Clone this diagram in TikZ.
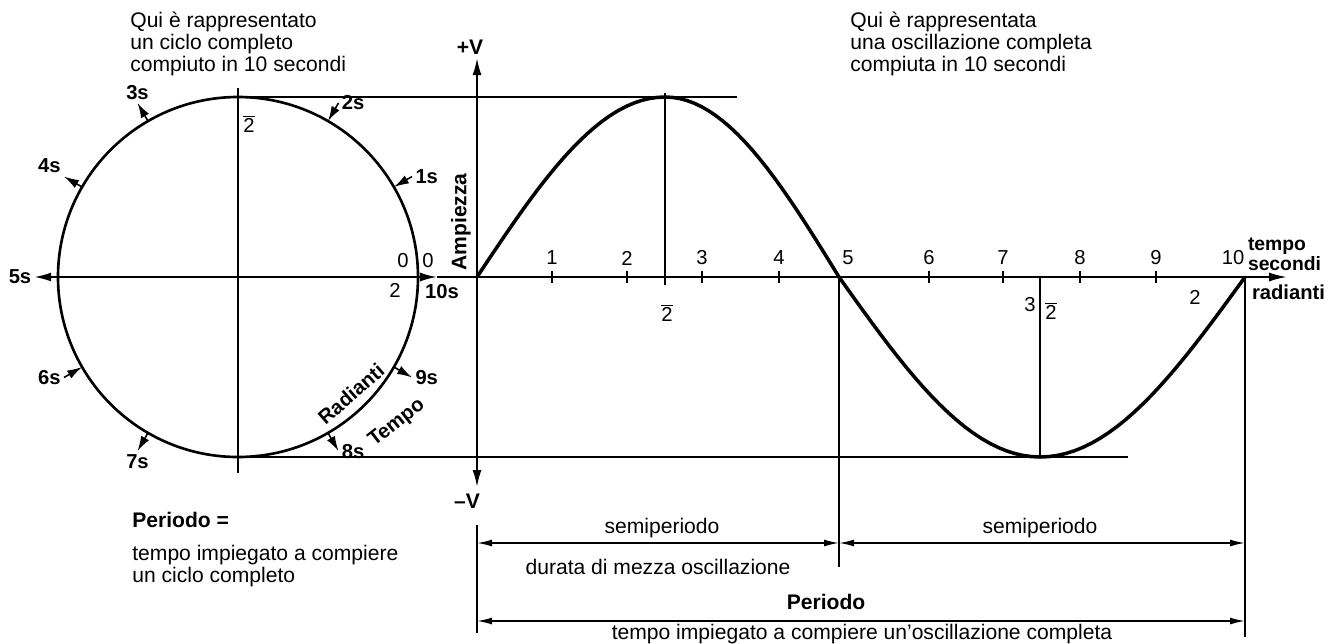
\documentclass[tikz,border=0pt]{standalone}
\usepackage{fontspec}
\setmainfont{Liberation Sans}
\usetikzlibrary{arrows.meta,positioning,calc}

\newcommand{\halfpi}{$\overline{\mbox{2}}$}

\begin{document}
\begin{tikzpicture}[x=0.02cm, y=-0.02cm,
    txt/.style={font=\fontsize{12}{12.5}\selectfont, align=left, inner sep=0pt},
    lab/.style={font=\fontsize{11.5}{11.5}\selectfont\bfseries, inner sep=1.5pt},
    num/.style={font=\fontsize{11.5}{11.5}\selectfont, inner sep=1pt},
    thin/.style={line width=0.8pt},
    ax/.style={line width=1.1pt},
    circ/.style={line width=1.5pt},
    wave/.style={line width=2pt, line join=round},
    sarr/.style={line width=0.9pt, -{Latex[length=3mm,width=1.8mm]}},
    axarr/.style={line width=1.1pt, -{Latex[length=3.6mm,width=1.8mm]}},
    dim/.style={line width=0.9pt, {Latex[length=3mm,width=1.4mm]}-{Latex[length=3mm,width=1.4mm]}}
]
\useasboundingbox (0,0) rectangle (1331,643);

% punti principali
\coordinate (O) at (238,277);
\coordinate (S0) at (477,277);
\coordinate (P) at (665,97);
\coordinate (C) at (839,277);
\coordinate (M) at (1040,457);
\coordinate (E) at (1245,277);

% testi in alto
\node[txt, anchor=north west] (quiL) at (130,12) {Qui è rappresentato\\un ciclo completo\\compiuto in 10 secondi};
\node[txt, anchor=north west] (quiR) at (850,12) {Qui è rappresentata\\una oscillazione completa\\compiuta in 10 secondi};

% cerchio
\draw[circ] (O) circle[radius=180];
\draw[thin] (238,88) -- (238,473);
\draw[thin] (O |- P) -- (737,97);
\draw[thin] (O |- M) -- (1128,457);

\node[lab] (s5) at (20,277) {5s};
\draw[ax, {Latex[length=3.4mm,width=1.8mm]}-{Latex[length=3.4mm,width=1.8mm]}] (s5.east) -- (437,277) coordinate (dieci);
\draw[axarr] (dieci) -- (1287,277);

\foreach \a/\t/\anc in {120/3s/south, 150/4s/south east, 240/7s/north, 300/8s/west, 330/9s/west}
  \draw[sarr] ($(O)+(-\a:180)$) -- ($(O)+(-\a:201)$) node[lab, anchor=\anc] (s\t) {\t};
\foreach \a/\t/\anc in {30/1s/west, 60/2s/west, 210/6s/east}
  \draw[sarr] ($(O)+(-\a:201)$) node[lab, anchor=\anc] (s\t) {\t} -- ($(O)+(-\a:180)$);

\node[num] (zero1) at (403,261) {0};
\node[num] (zero2) at (428,261) {0};
\node[num] (duepi) at (395,290) {2};
\node[lab] (s10) at (442,292) {10s};
\node[num] (mezzopi) at (249,124) {\halfpi};
\node[lab, rotate=41] (radc) at (351,394) {Radianti};
\node[lab, rotate=38] (tempoc) at (397,423) {Tempo};

% assi della sinusoide
\draw[ax, {Latex[length=3.4mm,width=1.8mm]}-{Latex[length=3.4mm,width=1.8mm]}] (477,487) -- (477,58);
\node[lab, font=\fontsize{12}{12}\selectfont\bfseries] (piuV) at (470,47) {+V};
\node[lab, font=\fontsize{12}{12}\selectfont\bfseries] (menoV) at (467,501) {--V};
\node[lab, font=\fontsize{12}{12}\selectfont\bfseries, rotate=90] (amp) at (461,222) {Ampiezza};

\foreach \x/\n in {552/1,627/2,702/3,779/4,929/6,1003/7,1080/8,1156/9} {
  \draw[ax] (\x,271) -- (\x,283);
  \node[num] (t\n) at (\x,258) {\n};
}
\node[num] (t5) at (848,258) {5};
\node[num] (t10) at (1233,258) {10};
\node[lab, anchor=west, align=left, font=\fontsize{11}{8.5}\selectfont\bfseries] (tsec) at (1245,254) {tempo\\secondi};
\node[lab, anchor=west] (radr) at (1249,292) {radianti};
\node[num] (duepi2) at (1195,297) {2};

% sinusoide
\draw[wave] plot[domain=0:90, samples=25] ({477+\x/90*188},{277-180*sin(\x)})
  -- plot[domain=90:180, samples=25] ({665+(\x-90)/90*174},{277-180*sin(\x)})
  -- plot[domain=180:270, samples=25] ({839+(\x-180)/90*201},{277-180*sin(\x)})
  -- plot[domain=270:360, samples=25] ({1040+(\x-270)/90*205},{277-180*sin(\x)});

\draw[thin] ($(P)+(0,-4)$) -- (665,285);
\draw[thin] (M) -- (M |- C);
\draw[thin] (C) -- (839,567);
\draw[thin] (E) -- (1245,637);
\draw[thin] (477,525) -- (477,633);

\node[num] (mezzopi2) at (667,313) {\halfpi};
\node[num] (tre) at (1030,305) {3};
\node[num] (mezzopi3) at (1051,311) {\halfpi};

% durate
\draw[dim] (477,543) -- (839,543);
\draw[dim] (839,543) -- (1245,543);
\draw[dim] (477,621) -- (1245,621);
\node[txt] (semi1) at (662,528) {semiperiodo};
\node[txt] (semi2) at (1040,528) {semiperiodo};
\node[txt] (durata) at (658,567) {durata di mezza oscillazione};
\node[txt, font=\fontsize{12}{12.5}\selectfont\bfseries] (periodo) at (826,602) {Periodo};
\node[txt] (tempoosc) at (862,634) {tempo impiegato a compiere un’oscillazione completa};

% definizione a sinistra
\node[txt, anchor=west, font=\fontsize{12}{12.5}\selectfont\bfseries] (per) at (132,520) {Periodo =};
\node[txt, below=0.34cm of per.south west, anchor=north west] (perdef) {tempo impiegato a compiere\\un ciclo completo};

\end{tikzpicture}
\end{document}
